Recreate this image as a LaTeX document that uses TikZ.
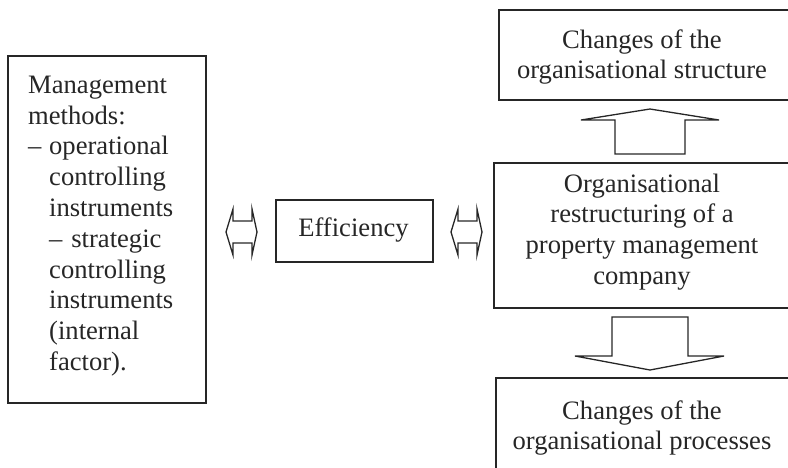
\documentclass[tikz,border=0pt]{standalone}
\usepackage{fontspec}
\setmainfont{Liberation Serif}
\begin{document}
\begin{tikzpicture}[x=1pt,y=-1pt,
  boxshape/.style={draw=black!85,line width=1.5pt,rectangle,inner sep=0pt,anchor=north west},
  txt/.style={inner sep=0pt,font=\fontsize{26.6}{30.8}\selectfont,text=black!85},
  blockarrow/.style={draw=black!85,line width=1.3pt,line join=miter}]
\useasboundingbox (0,0) rectangle (788,467);
\clip (0,0) rectangle (788,467);
% boxes
\node[boxshape,minimum width=198pt,minimum height=347pt] (mm) at (7,55) {};
\node[boxshape,minimum width=157pt,minimum height=62pt] (eff) at (275,199) {};
\node[boxshape,minimum width=310pt,minimum height=90pt] (cs) at (498,9) {};
\node[boxshape,minimum width=310pt,minimum height=145pt] (ors) at (493,162) {};
\node[boxshape,minimum width=310pt,minimum height=110pt] (cp) at (495,377) {};
% texts
\node[txt,anchor=west,text width=170pt,align=left] (mmt) at (28,226) {Management\\methods:\\\makebox[21pt][l]{–}operational\\\hspace*{21pt}controlling\\\hspace*{21pt}instruments\\\hspace*{21pt}– strategic\\\hspace*{21pt}controlling\\\hspace*{21pt}instruments\\\hspace*{21pt}(internal\\\hspace*{21pt}factor).};
\node[txt] (efft) at (353.5,230) {Efficiency};
\node[txt,align=center] (cst) at (642,57) {Changes of the\\organisational structure};
\node[txt,align=center] (orst) at (642,232) {Organisational\\restructuring of a\\property management\\company};
\node[txt,align=center] (cpt) at (642,428) {Changes of the\\organisational processes};
% double arrows
\draw[blockarrow] (226,232) -- (233,209) -- (233,221) -- (252,221) -- (252,209) -- (257,232) -- (252,255) -- (252,243) -- (233,243) -- (233,255) -- cycle;
\draw[blockarrow] (451,232) -- (458,209) -- (458,221) -- (477,221) -- (477,209) -- (482,232) -- (477,255) -- (477,243) -- (458,243) -- (458,255) -- cycle;
% up arrow
\draw[blockarrow] (650,109) -- (719,120) -- (685,120) -- (685,154) -- (615,154) -- (615,120) -- (581,120) -- cycle;
% down arrow
\draw[blockarrow] (612,317) -- (688,317) -- (688,356) -- (724,356) -- (650,370) -- (575,356) -- (612,356) -- cycle;
\end{tikzpicture}
\end{document}
